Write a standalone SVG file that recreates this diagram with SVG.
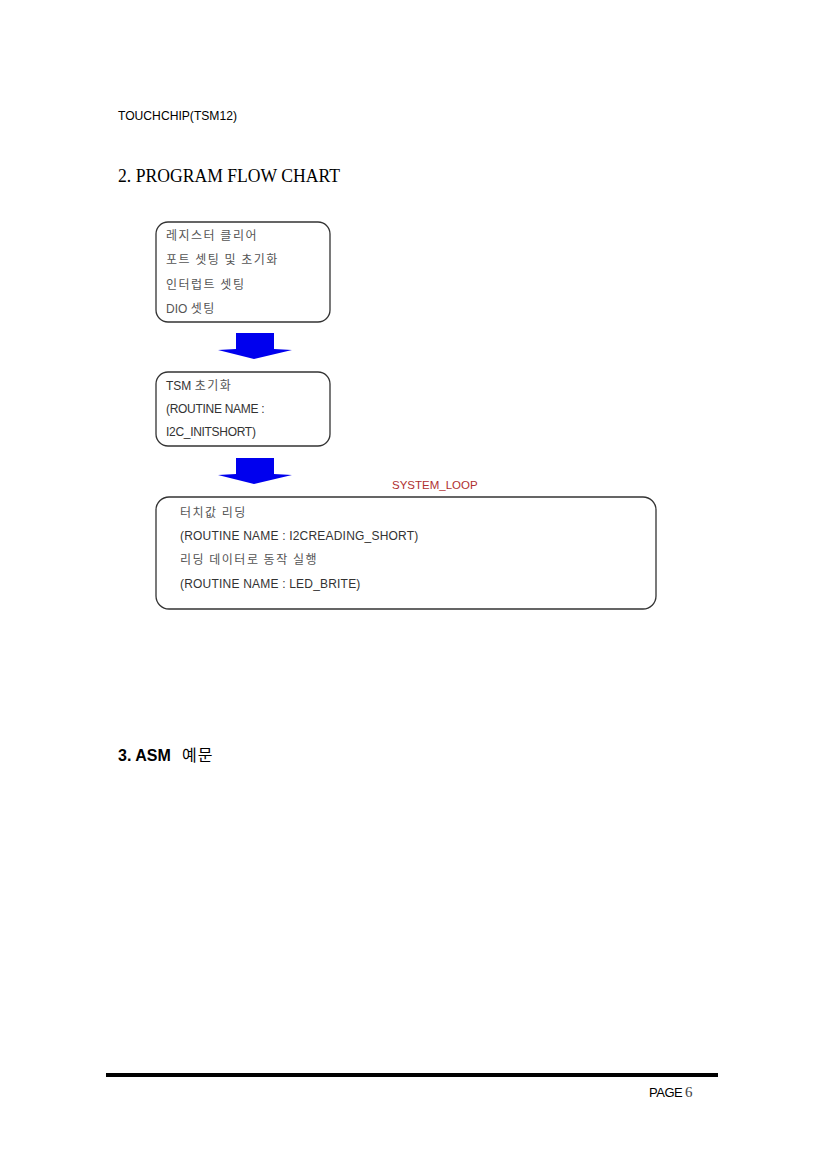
<svg xmlns="http://www.w3.org/2000/svg" width="827" height="1170" viewBox="0 0 827 1170">
<style>
.box{fill:#fff;stroke:#333;stroke-width:1.3}
.t{font-family:"Liberation Sans","Noto Sans CJK KR",sans-serif;font-size:12px;fill:#333}
.k{font-family:"Noto Sans CJK KR",sans-serif;font-size:12px;fill:#555;letter-spacing:1.5px}
.arr{fill:#0000ee}
</style>
<rect width="827" height="1170" fill="#fff"/>
<text x="118" y="120" font-family="Liberation Sans,sans-serif" font-size="12" fill="#000" textLength="119" lengthAdjust="spacingAndGlyphs">TOUCHCHIP(TSM12)</text>
<text x="118" y="182" font-family="Liberation Serif,serif" font-size="18.5" fill="#000" textLength="222" lengthAdjust="spacingAndGlyphs">2. PROGRAM FLOW CHART</text>
<g id="node1">
<rect class="box" x="156" y="222" width="174" height="100" rx="12"/>
<text class="k" x="166" y="240">레지스터 클리어</text>
<text class="k" x="166" y="264">포트 셋팅 및 초기화</text>
<text class="k" x="166" y="289">인터럽트 셋팅</text>
<text class="k" x="166" y="313"><tspan font-family="Liberation Sans,sans-serif" letter-spacing="0">DIO </tspan>셋팅</text>
</g>
<g id="node2">
<rect class="box" x="156" y="372" width="174" height="74" rx="12"/>
<text class="t" x="166" y="390">TSM <tspan class="k" font-size="11">초기화</tspan></text>
<text class="t" x="166" y="413" letter-spacing="-0.3">(ROUTINE NAME :</text>
<text class="t" x="166" y="436" letter-spacing="-0.3">I2C_INITSHORT)</text>
</g>
<text x="392" y="489" font-family="Liberation Sans,sans-serif" font-size="11.5" fill="#b03030">SYSTEM_LOOP</text>
<g id="node3">
<rect class="box" x="156" y="497" width="500" height="112" rx="13"/>
<text class="k" x="180" y="517">터치값 리딩</text>
<text class="t" x="180" y="540" letter-spacing="0.2">(ROUTINE NAME : I2CREADING_SHORT)</text>
<text class="k" x="180" y="564">리딩 데이터로 동작 실행</text>
<text class="t" x="180" y="588" letter-spacing="0.2">(ROUTINE NAME : LED_BRITE)</text>
</g>
<g id="connectors">
<path class="arr" d="M236 333 H274 V349 L292 350 L254 359 L218 350 L236 349 Z"/>
<path class="arr" d="M236 458 H274 V474 L292 475 L254 484 L218 475 L236 474 Z"/>
</g>
<text x="118" y="761" font-family="Liberation Sans,sans-serif" font-size="16" font-weight="bold" fill="#000">3. ASM</text>
<text x="182" y="761" font-family="Noto Sans CJK KR,sans-serif" font-size="16" fill="#000" letter-spacing="1">예문</text>
<rect x="106" y="1073" width="612" height="4" fill="#000"/>
<text x="649" y="1097" font-family="Liberation Sans,sans-serif" font-size="13" fill="#000" letter-spacing="-0.5">PAGE</text>
<text x="685" y="1097" font-family="Liberation Serif,serif" font-size="15" fill="#444">6</text>
</svg>
